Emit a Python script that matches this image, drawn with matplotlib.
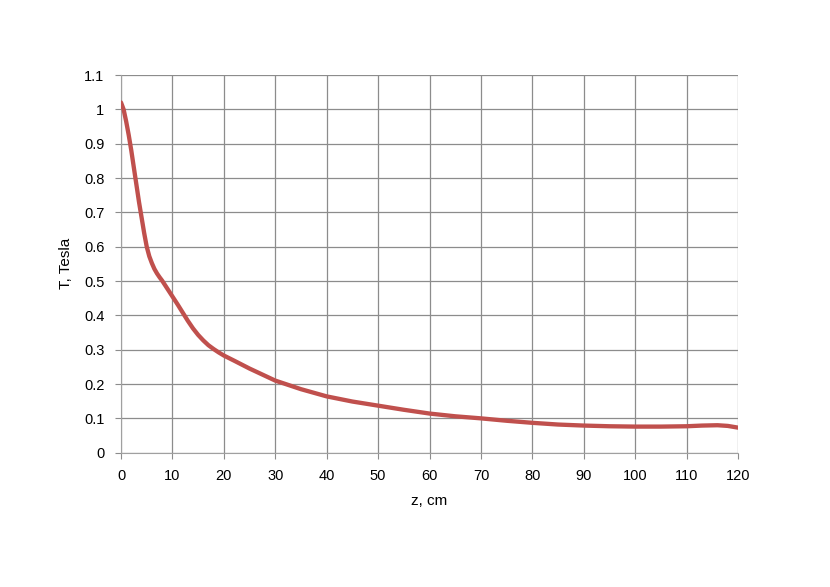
import matplotlib.pyplot as plt

# field along the axis
z_cm = [0, 0.5, 1, 1.5, 2, 2.5, 3, 3.5, 4, 4.5, 5, 5.5, 6, 6.5, 7, 7.5, 8, 9, 10,
        11, 12, 13, 14, 15, 16, 17, 18, 19, 20, 22, 25, 30, 35, 40,
        45, 50, 55, 60, 65, 70, 75, 80, 85, 90, 95, 100, 105, 110, 113, 116, 118, 120]
b_tesla = [1.02, 1.0, 0.965, 0.925, 0.88, 0.83, 0.78, 0.73, 0.685, 0.64, 0.60, 0.572,
           0.552, 0.535, 0.522, 0.511, 0.501, 0.478, 0.455,
           0.432, 0.408, 0.384, 0.362, 0.343, 0.327, 0.313, 0.302, 0.292, 0.283,
           0.268, 0.245, 0.21, 0.185, 0.164,
           0.149, 0.137, 0.125, 0.114, 0.106, 0.100, 0.093, 0.087, 0.082, 0.079,
           0.077, 0.076, 0.076, 0.077, 0.079, 0.080, 0.078, 0.073]

x_ticks = list(range(0, 121, 10))
y_ticks = [0, 0.1, 0.2, 0.3, 0.4, 0.5, 0.6, 0.7, 0.8, 0.9, 1, 1.1]
y_labels = ['0', '0.1', '0.2', '0.3', '0.4', '0.5', '0.6', '0.7', '0.8', '0.9', '1', '1.1']

plt.rcParams['font.family'] = ['Liberation Sans', 'DejaVu Sans']

fig = plt.figure(figsize=(8.3, 5.87), dpi=100)
ax = fig.add_axes([0.1458, 0.2288, 0.7434, 0.6434])

ax.plot(z_cm, b_tesla, color='#C0504D', linewidth=3.1, solid_capstyle='round',
        solid_joinstyle='round', zorder=3)

ax.set_xlim(0, 120)
ax.set_ylim(0, 1.1)
ax.set_xticks(x_ticks)
ax.set_yticks(y_ticks)
ax.set_yticklabels(y_labels)
ax.grid(True, color='#8c8c8c', linewidth=0.9)

for side in ['top', 'right']:
    ax.spines[side].set_visible(False)
for side in ['left', 'bottom']:
    ax.spines[side].set_color('#a0a0a0')
    ax.spines[side].set_linestyle((0, (1, 1)))
    ax.spines[side].set_linewidth(0.8)

ax.tick_params(axis='both', colors='#8c8c8c', labelcolor='black', labelsize=10.5,
               length=4, width=0.8, direction='out')
ax.tick_params(axis='x', pad=8)
ax.tick_params(axis='y', pad=8)

ax.set_xlabel('z, cm', fontsize=11, labelpad=8)
ax.set_ylabel('T, Tesla', fontsize=11, labelpad=8)

fig.savefig('out.png', dpi=100, facecolor='white')
